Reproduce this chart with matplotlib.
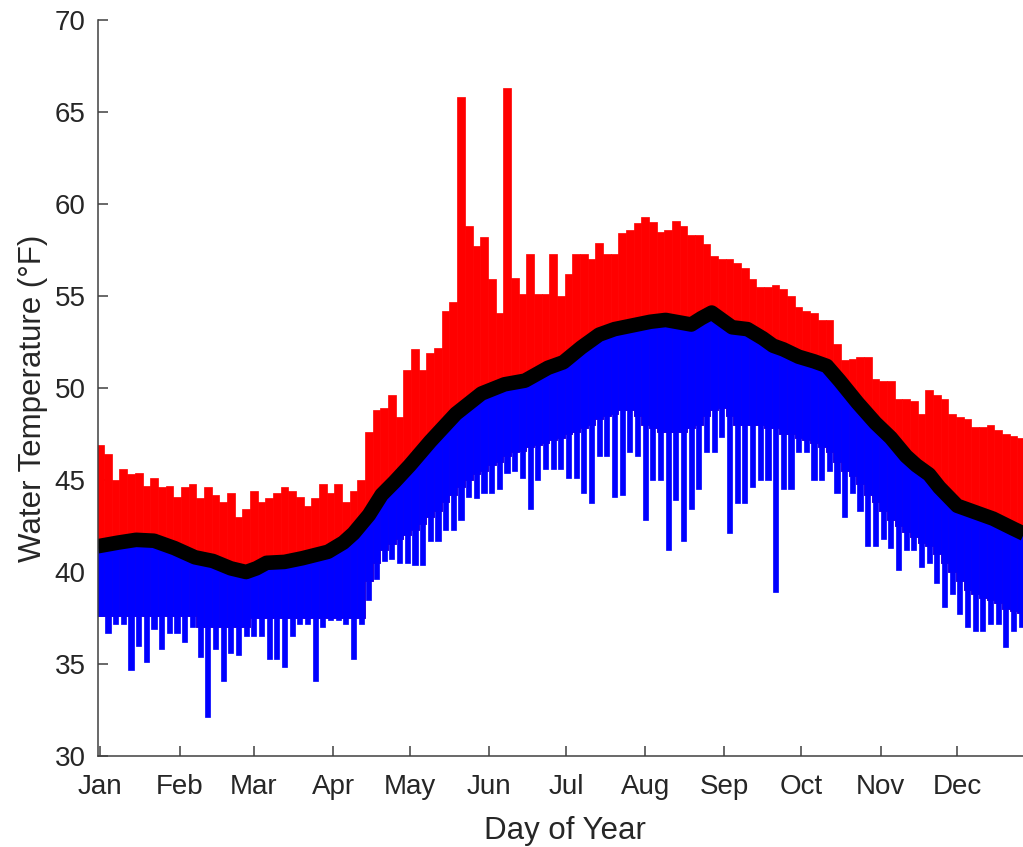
import numpy as np
import matplotlib
matplotlib.use("Agg")
import matplotlib.pyplot as plt
from matplotlib.patches import Polygon

# ---------------- data ----------------
months = ["Jan", "Feb", "Mar", "Apr", "May", "Jun", "Jul", "Aug", "Sep", "Oct", "Nov", "Dec"]
month_start_days = [1, 32, 61, 92, 122, 153, 183, 214, 245, 275, 306, 336]

# sampled every 3 days, day 1 .. 361
sample_days = list(range(1, 362, 3))

daily_max = [
    46.9, 46.4, 45.0, 45.6, 45.3, 45.4, 44.7, 45.1, 44.6, 44.7, 44.1, 44.6, 44.8, 44.0, 44.6,
    44.2, 43.8, 44.3, 43.0, 43.4, 44.4, 43.8, 44.0, 44.3, 44.6, 44.4, 44.1, 43.6, 44.0, 44.8,
    44.3, 44.8, 43.8, 44.4, 45.0,
    47.6, 48.8, 48.9, 49.6, 48.4, 51.0, 52.1, 51.0, 51.9, 52.2, 54.2, 54.7, 65.8, 58.8, 57.7,
    58.2, 55.9, 54.1, 66.3, 56.0, 55.1, 57.3, 55.1, 55.1, 57.3, 55.0, 56.2, 57.3, 57.3, 57.0,
    57.9, 57.3, 57.3,
    58.4, 58.6, 58.95, 59.3, 59.0, 58.5, 58.6, 59.1, 58.8, 58.3, 58.3, 57.8, 57.2, 57.0, 57.0,
    56.8, 56.5, 55.9, 55.5, 55.5, 55.6, 55.4, 55.0, 54.4, 54.2, 54.1, 53.7, 53.7,
    52.4, 51.5, 51.6, 51.7, 51.7, 50.5, 50.4, 50.4, 49.4, 49.4, 49.3, 48.6, 49.9, 49.6, 49.4,
    48.6, 48.4, 48.3, 47.9, 47.9, 48.0, 47.7, 47.5, 47.4, 47.3,
]

daily_min = [
    37.6, 36.7, 37.2, 37.2, 34.7, 36.0, 35.1, 36.9, 35.8, 36.7, 36.7, 36.2, 37.0, 35.4, 32.1,
    35.8, 34.1, 35.6, 35.5, 36.5, 36.5, 36.5, 35.3, 35.3, 34.85, 36.5, 37.2, 37.2, 34.1, 37.0,
    37.4, 37.4, 37.2, 35.3, 37.2,
    38.5, 39.6, 40.6, 40.7, 40.5, 40.5, 40.4, 40.4, 41.7, 41.7, 42.3, 42.3, 42.8, 44.1, 44.0,
    44.3, 44.3, 44.5, 45.4, 45.5, 45.1, 43.4, 45.0, 45.6, 45.6, 45.6, 45.1, 45.1, 44.3, 43.75,
    46.3, 46.3, 44.1,
    44.2, 46.5, 46.3, 42.8, 45.0, 45.0, 41.2, 43.9, 41.7, 43.4, 44.5, 46.5, 46.5, 47.35, 42.1,
    43.75, 43.75, 44.6, 45.0, 45.0, 38.9, 44.5, 44.5, 46.5, 46.5, 45.0, 45.0, 45.5,
    44.3, 43.0, 44.3, 43.3, 41.4, 41.4, 41.8, 41.3, 40.1, 41.2, 41.2, 40.3, 40.5, 39.4, 38.1,
    38.8, 37.7, 37.0, 36.8, 36.8, 37.2, 37.2, 35.9, 36.8, 37.0,
]

# lower edge of the densely filled (solid) part of the cold readings
dense_floor = [
    37.6, 37.6, 37.6, 37.6, 37.6, 37.6, 37.6, 37.6, 37.6, 37.6, 37.6, 37.6, 37.6, 37.0, 37.0,
    37.0, 37.0, 37.0, 37.0, 37.0, 37.5, 37.5, 37.5, 37.5, 37.5, 37.5, 37.5, 37.5, 37.5, 37.5,
    37.5, 37.5, 37.5, 37.5, 37.5,
    39.5, 40.5, 41.2, 41.5, 41.8, 42.0, 42.3, 42.6, 43.0, 43.3, 43.8, 44.2, 44.6, 45.0, 45.3,
    45.5, 45.8, 46.0, 46.3, 46.5, 46.6, 46.8, 46.9, 47.0, 47.2, 47.3, 47.5, 47.6, 47.8, 48.0,
    48.3, 48.5, 48.6,
    48.8, 48.8, 48.5, 48.0, 47.8, 47.6, 47.6, 47.6, 47.6, 47.8, 48.0, 48.5, 48.8, 48.9, 48.5,
    48.0, 48.0, 48.0, 48.0, 47.8, 47.8, 47.5, 47.5, 47.3, 47.2, 47.0, 46.8, 46.5,
    46.0, 45.5, 45.2, 44.8, 44.2, 43.8, 43.3, 42.8, 42.5, 42.2, 41.9, 41.6, 41.4, 41.0, 40.5,
    40.0, 39.5, 39.0, 38.8, 38.6, 38.5, 38.3, 38.0, 37.9, 37.8,
]

mean_days = [0, 8, 15, 22, 30, 38, 45, 52, 58, 62, 66, 73, 80, 90, 96, 100, 106, 111, 116,
             122, 130, 140, 150, 159, 167, 176, 182, 189, 196, 202, 209, 216, 222, 228, 232,
             236, 240, 244, 248, 254, 260, 264, 268, 274, 280, 285, 290, 297, 304, 310, 316,
             320, 325, 329, 336, 343, 350, 358, 364]
mean_temp = [41.4, 41.6, 41.75, 41.7, 41.3, 40.8, 40.6, 40.2, 40.0, 40.2, 40.5, 40.55, 40.75,
             41.1, 41.6, 42.1, 43.1, 44.2, 44.9, 45.8, 47.1, 48.6, 49.7, 50.2, 50.4, 51.1,
             51.4, 52.2, 52.9, 53.2, 53.4, 53.6, 53.7, 53.55, 53.45, 53.8, 54.1, 53.7, 53.3,
             53.2, 52.7, 52.3, 52.1, 51.7, 51.45, 51.2, 50.4, 49.2, 48.1, 47.3, 46.3, 45.8,
             45.3, 44.6, 43.6, 43.25, 42.9, 42.35, 41.95]

# ---------------- figure ----------------
plt.rcParams["font.family"] = ["Liberation Sans", "DejaVu Sans"]
fig = plt.figure(figsize=(10.23, 8.47), dpi=100)
ax = fig.add_axes([0.0958, 0.1074, 0.9042, 0.869])

d = np.array(sample_days)
mx = np.array(daily_max)
mn = np.array(daily_min)
fl = np.array(dense_floor)

RED = "#ff0000"
BLUE = "#0000ff"

# warm readings (above the mean are the visible part)
ax.bar(d, mx - fl, bottom=fl, width=3.0, color=RED, edgecolor=RED, linewidth=0.5, zorder=2)
# cold readings: dense part up to the mean (clipped), sparse spikes below
blue = ax.bar(d, mx - fl, bottom=fl, width=3.0, color=BLUE, edgecolor=BLUE,
              linewidth=0.5, zorder=3)
ax.bar(d, fl - mn, bottom=mn, width=2.0, color=BLUE, edgecolor=BLUE, linewidth=0.5, zorder=3)

verts = list(zip(mean_days, mean_temp)) + [(mean_days[-1], 0), (mean_days[0], 0)]
clip = Polygon(verts, closed=True, facecolor="none", edgecolor="none")
ax.add_patch(clip)
for b in blue:
    b.set_clip_path(clip)

ax.plot(mean_days, mean_temp, color="black", lw=10.5, solid_capstyle="butt", zorder=4)

# ---------------- axes styling ----------------
ax.set_xlim(0.1, 361.7)
ax.set_ylim(30, 70)
ax.set_yticks(range(30, 71, 5))
ax.set_xticks(month_start_days)
ax.set_xticklabels(months)

axcol = "#404040"
txtcol = "#262626"
for s in ["top", "right"]:
    ax.spines[s].set_visible(False)
for s in ["left", "bottom"]:
    ax.spines[s].set_color(axcol)
    ax.spines[s].set_linewidth(1.1)
    ax.spines[s].set_zorder(5)

ax.tick_params(axis="both", direction="in", length=7.5, width=1.1, color=axcol,
               labelsize=20, labelcolor=txtcol)
ax.tick_params(axis="y", pad=9)
ax.tick_params(axis="x", pad=13)

ax.set_xlabel("Day of Year", fontsize=22.5, color=txtcol)
ax.set_ylabel("Water Temperature (°F)", fontsize=22.5, color=txtcol)
ax.xaxis.set_label_coords(0.505, -0.082)
ax.xaxis.label.set_va("top")
ax.yaxis.set_label_coords(-0.054, 0.486)
ax.yaxis.label.set_va("bottom")

fig.savefig("out.png", dpi=100)
